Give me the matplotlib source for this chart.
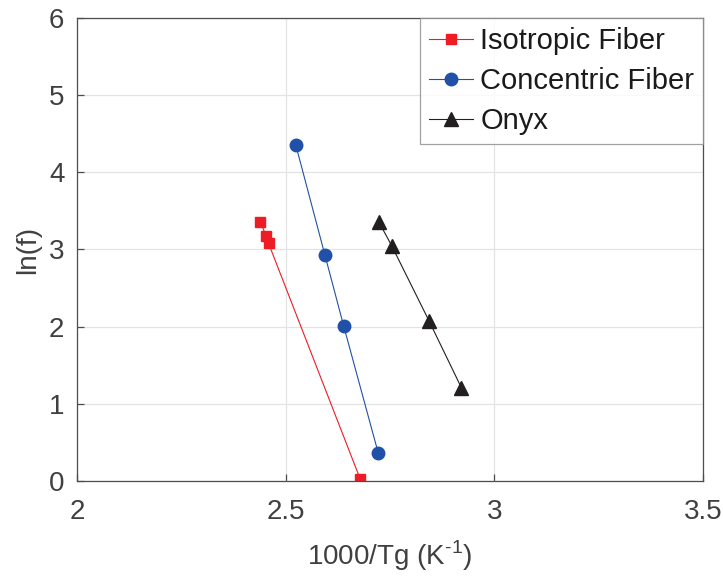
import matplotlib
matplotlib.use("Agg")
import matplotlib.pyplot as plt

# Arrhenius-type data: ln(frequency) versus inverse glass transition temperature
iso_x = [2.439, 2.454, 2.459, 2.679]
iso_y = [3.355, 3.17, 3.08, 0.02]

con_x = [2.524, 2.594, 2.639, 2.722]
con_y = [4.36, 2.93, 2.01, 0.36]

onyx_x = [2.723, 2.754, 2.844, 2.921]
onyx_y = [3.36, 3.05, 2.07, 1.21]

series_labels = ["Isotropic Fiber", "Concentric Fiber", "Onyx"]
x_ticks = [2, 2.5, 3, 3.5]
y_ticks = [0, 1, 2, 3, 4, 5, 6]

plt.rcParams["font.family"] = ["Liberation Sans", "DejaVu Sans"]
plt.rcParams["mathtext.fontset"] = "custom"
plt.rcParams["mathtext.rm"] = "Liberation Sans"

text_col = "#404040"
axis_col = "#4d4d4d"

fig = plt.figure(figsize=(7.23, 5.77), dpi=100)
ax = fig.add_axes([0.1065, 0.1664, 0.8658, 0.8024])

ax.plot(iso_x, iso_y, "-s", color="#ee1c25", lw=0.8, ms=6.5, mec="#ee1c25", label=series_labels[0])
ax.plot(con_x, con_y, "-o", color="#2150a8", lw=0.8, ms=9, mec="#2150a8", label=series_labels[1])
ax.plot(onyx_x, onyx_y, "-^", color="#231f20", lw=0.8, ms=10.5, mec="#231f20", label=series_labels[2])

ax.set_xlim(2, 3.5)
ax.set_ylim(0, 6)
ax.set_xticks(x_ticks)
ax.set_xticklabels([f"{t:g}" for t in x_ticks])
ax.set_yticks(y_ticks)
ax.grid(True, color="#e3e3e3", lw=0.9)
ax.set_axisbelow(True)

for s in ax.spines.values():
    s.set_color(axis_col)
    s.set_linewidth(0.9)

ax.tick_params(direction="in", length=5, width=0.9, color=axis_col,
               labelsize=20, labelcolor=text_col, top=False, right=False)
ax.tick_params(axis="x", pad=13)
ax.tick_params(axis="y", pad=9)

ax.set_xlabel(r"1000/Tg (K$^{\mathregular{\text{-}1}}$)", fontsize=20, color=text_col, labelpad=10)
ax.set_ylabel("ln(f)", fontsize=20, color=text_col, labelpad=6)

leg = ax.legend(loc="upper right", bbox_to_anchor=(1.0, 1.0), borderaxespad=0,
                fontsize=21, frameon=True, fancybox=False, handlelength=1.5,
                handletextpad=0.25, labelspacing=0.42, borderpad=0.3)
leg.get_frame().set_edgecolor("#8a8a8a")
leg.get_frame().set_linewidth(0.9)
for t in leg.get_texts():
    t.set_color("#1a1a1a")

fig.savefig("out.png", dpi=100)
